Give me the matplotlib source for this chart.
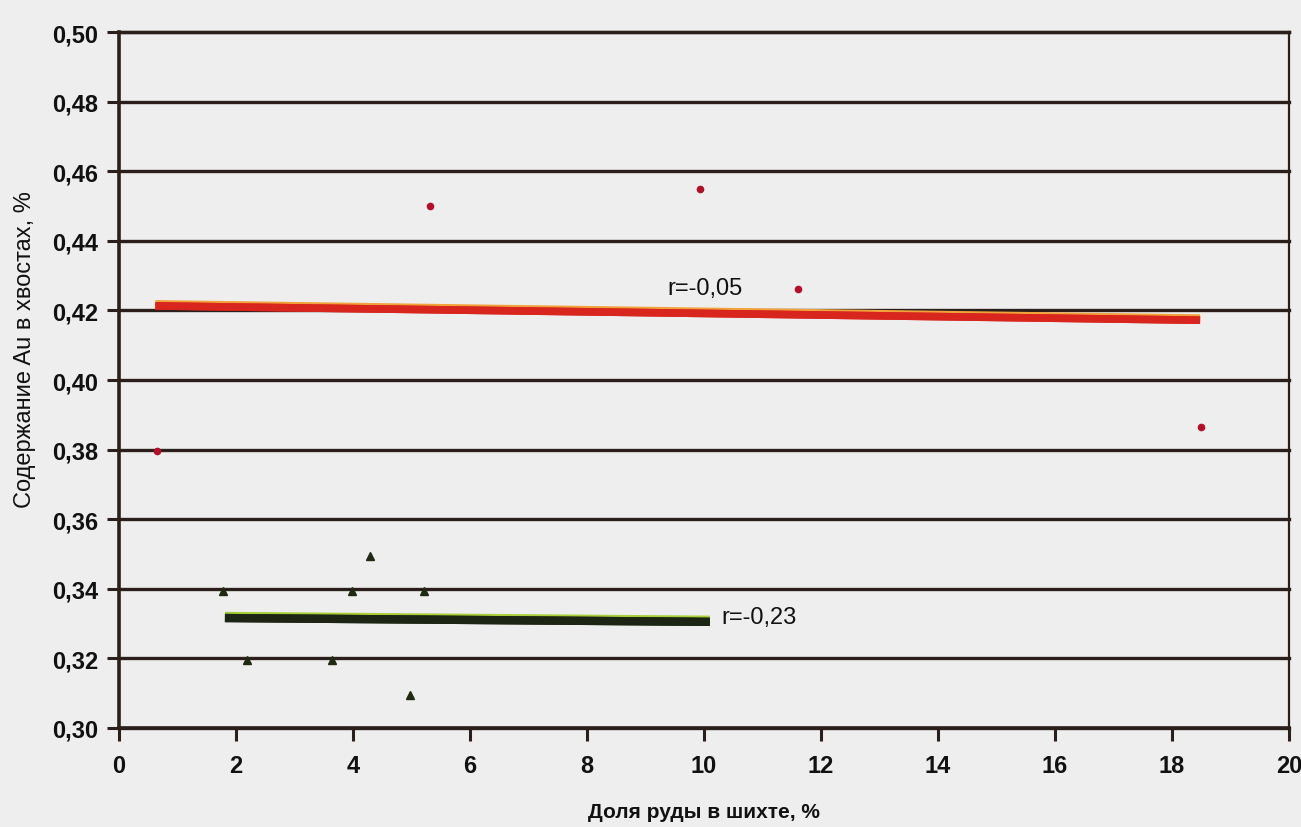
import matplotlib
matplotlib.use("Agg")
import matplotlib.pyplot as plt
import matplotlib.patheffects as pe
import numpy as np

# --- data ---
red_x = [0.65, 5.32, 9.93, 11.6, 18.5]
red_y = [0.3796, 0.450, 0.4549, 0.4261, 0.3865]
red_trend_x = [0.62, 18.48]
red_trend_y = [0.4213, 0.4172]
red_label = "r=-0,05"

green_x = [1.78, 3.98, 5.21, 4.29, 2.19, 3.64, 4.97]
green_y = [0.3393, 0.3393, 0.3393, 0.3494, 0.3195, 0.3195, 0.3095]
green_trend_x = [1.81, 10.1]
green_trend_y = [0.3316, 0.3305]
green_label = "r=-0,23"

x_ticks = [0, 2, 4, 6, 8, 10, 12, 14, 16, 18, 20]
y_ticks = [0.30, 0.32, 0.34, 0.36, 0.38, 0.40, 0.42, 0.44, 0.46, 0.48, 0.50]
y_ticklabels = ["0,30", "0,32", "0,34", "0,36", "0,38", "0,40",
                "0,42", "0,44", "0,46", "0,48", "0,50"]
xlabel = "Доля руды в шихте, %"
ylabel = "Содержание Au в хвостах, %"

plt.rcParams['font.family'] = ['Liberation Sans', 'DejaVu Sans']

bg = '#efeeee'
fig = plt.figure(figsize=(13.01, 8.28), dpi=100, facecolor=bg)
ax = fig.add_axes([0.0915, 0.1196, 0.8993, 0.8404], facecolor=bg)

ax.set_xlim(0, 20)
ax.set_ylim(0.30, 0.50)

gridc = '#2b1f1c'
for yv in y_ticks:
    ax.axhline(yv, color=gridc, lw=2.4, zorder=1, clip_on=False)

# red series
ax.plot(red_trend_x, red_trend_y, color='#d8261f', lw=5.5, solid_capstyle='butt',
        zorder=3, path_effects=[pe.withStroke(offset=(0, 1.5), linewidth=5.5,
                                              foreground='#f2a23a'),
                                pe.Normal()])
ax.plot(red_x, red_y, 'o', color='#b0102a', ms=4.5, zorder=4, lw=0)
ax.text(9.37, 0.4265, red_label, fontsize=17, ha='left', va='center',
        color='#111111', zorder=5)

# green series
ax.plot(green_trend_x, green_trend_y, color='#1c2413', lw=6, solid_capstyle='butt',
        zorder=3, path_effects=[pe.withStroke(offset=(0, 1.5), linewidth=6,
                                              foreground='#a8cf3a'),
                                pe.Normal()])
ax.plot(green_x, green_y, '^', color='#1f2a12', ms=5.5, zorder=4, lw=0)
ax.text(10.3, 0.3318, green_label, fontsize=17, ha='left', va='center',
        color='#111111', zorder=5)

ax.set_xticks(x_ticks)
ax.set_xticklabels([str(v) for v in x_ticks])
ax.set_yticks(y_ticks)
ax.set_yticklabels(y_ticklabels)

ax.tick_params(axis='both', direction='out', color=gridc, width=2.2, length=9,
               labelsize=17, labelcolor='#111111')
ax.tick_params(axis='x', pad=10)
ax.tick_params(axis='y', pad=6)
for lab in ax.get_xticklabels() + ax.get_yticklabels():
    lab.set_fontweight('bold')

for s in ['left', 'bottom']:
    ax.spines[s].set_color(gridc)
    ax.spines[s].set_linewidth(2.6)
ax.spines['right'].set_color(gridc)
ax.spines['right'].set_linewidth(1.6)
ax.spines['top'].set_color(gridc)
ax.spines['top'].set_linewidth(2.4)

ax.set_xlabel(xlabel, fontsize=15, fontweight='bold', color='#111111')
ax.xaxis.set_label_coords(0.5, -0.106)
ax.set_ylabel(ylabel, fontsize=17, color='#111111')
ax.yaxis.set_label_coords(-0.071, 0.545)

fig.savefig('out.png', dpi=100, facecolor=bg)
